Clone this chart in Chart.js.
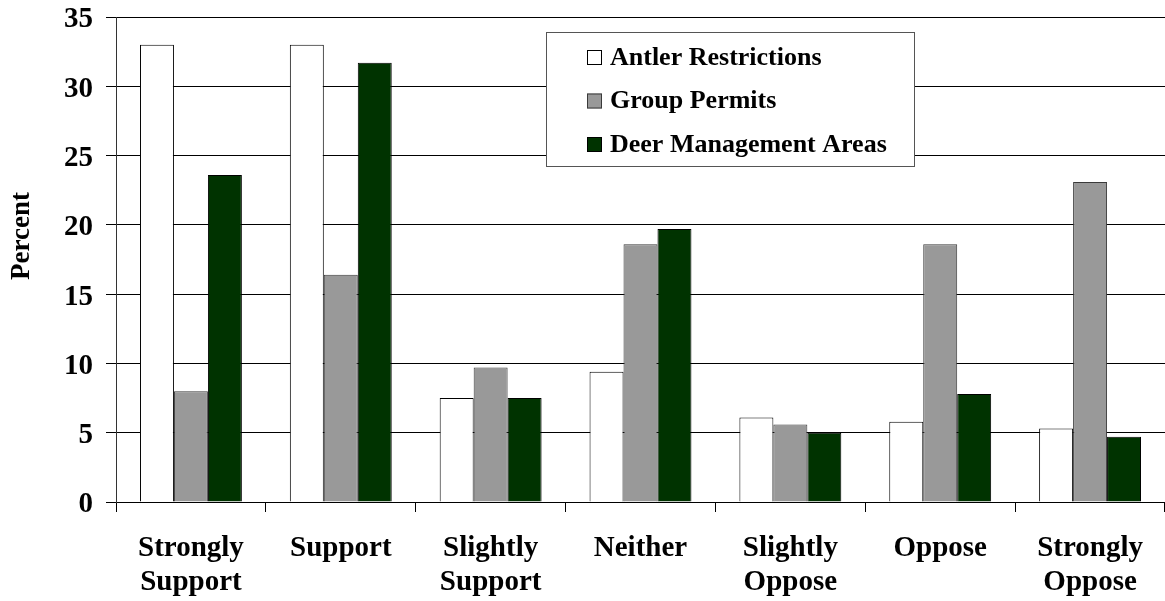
<!DOCTYPE html>
<html>
<head>
<meta charset="utf-8">
<script src="https://cdn.jsdelivr.net/npm/chart.js@4"></script>
<style>
  html, body { margin: 0; padding: 0; background: #fff; }
  #wrap { width: 1165px; height: 601px; position: relative; }
</style>
</head>
<body>
<div id="wrap"><canvas id="chart"></canvas></div>
<script>
/* ===== Support for deer management options ===== */
const categories = [
  ['Strongly', 'Support'], ['Support'], ['Slightly', 'Support'], ['Neither'],
  ['Slightly', 'Oppose'], ['Oppose'], ['Strongly', 'Oppose']
];
const seriesNames = ['Antler Restrictions', 'Group Permits', 'Deer Management Areas'];
const antlerRestrictions = [33.0, 33.0, 7.5, 9.4, 6.1, 5.8, 5.3];
const groupPermits = [8.0, 16.4, 9.7, 18.6, 5.6, 18.6, 23.1];
const deerMgmtAreas = [23.6, 31.7, 7.5, 19.7, 5.0, 7.8, 4.7];
const yTicks = [0, 5, 10, 15, 20, 25, 30, 35];
const yTitle = 'Percent';

const FONT = '"Liberation Serif", "Times New Roman", serif';
const FILLS = ['#ffffff', '#999999', '#003300'];
const BORDERS = ['#000000', '#3a3a3a', '#000000'];

// legend drawn inside the plot, covering the gridlines; also the axis title
const boxLegend = {
  id: 'boxLegend',
  afterDraw(chart) {
    const ctx = chart.ctx;
    const x = 546, y = 32, w = 368, h = 134;
    ctx.save();
    ctx.fillStyle = '#fff';
    ctx.fillRect(x, y, w, h);
    ctx.strokeStyle = '#555';
    ctx.lineWidth = 1;
    ctx.strokeRect(x + 0.5, y + 0.5, w, h);
    ctx.font = 'bold 26px ' + FONT;
    ctx.textBaseline = 'middle';
    chart.data.datasets.forEach((ds, i) => {
      const cy = 57 + i * 43.5;
      ctx.fillStyle = ds.backgroundColor;
      ctx.fillRect(587, cy - 7, 15, 15);
      ctx.strokeStyle = ds.borderColor;
      ctx.strokeRect(587.5, cy - 6.5, 14, 14);
      ctx.fillStyle = '#000';
      ctx.fillText(ds.label, 610, cy + 1);
    });

    // y axis title, a bit above the axis middle like the original
    ctx.translate(22, 236);
    ctx.rotate(-Math.PI / 2);
    ctx.font = 'bold 27px ' + FONT;
    ctx.textAlign = 'center';
    ctx.textBaseline = 'middle';
    ctx.fillText(yTitle, 0, 0);
    ctx.restore();
  }
};

const datasets = [antlerRestrictions, groupPermits, deerMgmtAreas].map((vals, i) => ({
  label: seriesNames[i],
  data: vals,
  backgroundColor: FILLS[i],
  borderColor: BORDERS[i],
  borderWidth: 1,
  barPercentage: 1,
  categoryPercentage: 0.68
}));

new Chart(document.getElementById('chart'), {
  type: 'bar',
  data: { labels: categories, datasets },
  plugins: [boxLegend],
  options: {
    responsive: true,
    maintainAspectRatio: false,
    animation: false,
    layout: { padding: { top: 17, right: 0, left: 0, bottom: 0 } },
    plugins: {
      legend: { display: false },
      tooltip: { enabled: false }
    },
    scales: {
      x: {
        afterFit(s) {
          s.height = 99;
          s.paddingLeft = 0;
          s.paddingRight = 0;
        },
        grid: {
          offset: true,
          drawOnChartArea: false,
          drawTicks: true,
          tickLength: 10,
          color: '#000'
        },
        border: { color: '#000', width: 1 },
        ticks: {
          color: '#000',
          padding: 20,
          maxRotation: 0,
          autoSkip: false,
          font: { family: FONT, size: 29, weight: 'bold', lineHeight: 1.17 }
        }
      },
      y: {
        min: 0,
        max: 35,
        afterFit(s) {
          s.width = 116;
          s.paddingTop = 0;
          s.paddingBottom = 0;
        },
        afterBuildTicks(s) { s.ticks = yTicks.map(v => ({ value: v })); },
        grid: {
          color: '#000',
          lineWidth: 1,
          drawTicks: true,
          tickLength: 10
        },
        border: { color: '#333', width: 1 },
        ticks: {
          color: '#000',
          padding: 13,
          labelOffset: 3,
          font: { family: FONT, size: 29, weight: 'bold' }
        }
      }
    }
  }
});
</script>
</body>
</html>
